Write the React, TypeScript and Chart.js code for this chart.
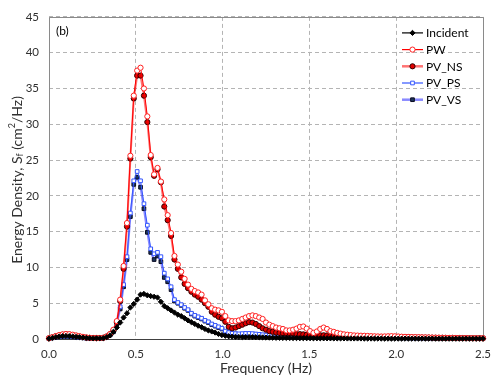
import React, { useEffect, useRef } from "react";
import { Chart, registerables } from "chart.js";
Chart.register(...registerables);

// Frequency grid step (Hz): points at i * FREQ_STEP, i = 0..128
const FREQ_STEP = 0.01953125;
const X_MIN = 0;
const X_MAX = 2.5;
const Y_MIN = 0;
const Y_MAX = 45;
const X_STEP = 0.5;
const Y_STEP = 5;
const PANEL_LABEL = "(b)";
const X_TITLE = "Frequency (Hz)";
const SERIES_NAMES = ["Incident", "PW", "PV_NS", "PV_PS", "PV_VS"];

const INCIDENT = [
  0.05, 0.15, 0.25, 0.35, 0.4, 0.42, 0.4, 0.35, 0.3, 0.25,
  0.2, 0.15, 0.12, 0.1, 0.1, 0.1, 0.12, 0.25, 0.5, 1.0,
  1.6, 2.3, 3.0, 3.6, 4.4, 4.9, 5.5, 6.2, 6.3, 6.1,
  6.0, 5.9, 5.8, 5.2, 4.6, 4.3, 4.0, 3.7, 3.4, 3.2,
  2.9, 2.6, 2.35, 2.1, 1.85, 1.65, 1.4, 1.2, 1.05, 0.9,
  0.7, 0.55, 0.45, 0.38, 0.33, 0.3, 0.28, 0.27, 0.27, 0.27,
  0.26, 0.25, 0.24, 0.22, 0.2, 0.19, 0.18, 0.17, 0.16, 0.15,
  0.15, 0.14, 0.13, 0.13, 0.12, 0.12, 0.11, 0.11, 0.1, 0.1,
  0.1, 0.09, 0.09, 0.09, 0.08, 0.08, 0.08, 0.08, 0.07, 0.07,
  0.07, 0.07, 0.07, 0.06, 0.06, 0.06, 0.06, 0.06, 0.06, 0.05,
  0.05, 0.05, 0.05, 0.05, 0.05, 0.05, 0.05, 0.05, 0.05, 0.05,
  0.05, 0.05, 0.05, 0.05, 0.04, 0.04, 0.04, 0.04, 0.04, 0.04,
  0.04, 0.04, 0.04, 0.04, 0.04, 0.04, 0.04, 0.04, 0.04,
];

const PW = [
  0.1, 0.25, 0.4, 0.55, 0.65, 0.7, 0.68, 0.6, 0.5, 0.4,
  0.3, 0.22, 0.17, 0.15, 0.14, 0.14, 0.18, 0.35, 0.7, 1.3,
  2.5, 5.5, 10.2, 16.2, 25.6, 34.0, 37.5, 37.9, 35.0, 31.1,
  25.7, 23.0, 23.9, 22.0, 19.5, 17.3, 14.8, 11.6, 10.4, 9.4,
  8.4, 7.6, 7.0, 6.7, 6.5, 6.2, 5.4, 4.85, 4.3, 4.1,
  4.0, 3.8, 3.2, 2.6, 2.5, 2.5, 2.6, 2.8, 3.0, 3.2,
  3.3, 3.2, 3.0, 2.8, 2.3, 2.0, 1.8, 1.6, 1.5, 1.4,
  1.2, 1.2, 1.3, 1.45, 1.7, 1.75, 1.45, 1.1, 0.86, 1.05,
  1.4, 1.6, 1.4, 1.1, 1.0, 0.85, 0.75, 0.65, 0.6, 0.55,
  0.5, 0.48, 0.46, 0.45, 0.43, 0.4, 0.38, 0.36, 0.35, 0.36,
  0.38, 0.4, 0.38, 0.35, 0.32, 0.3, 0.28, 0.27, 0.26, 0.25,
  0.24, 0.23, 0.22, 0.2, 0.19, 0.18, 0.17, 0.16, 0.15, 0.15,
  0.14, 0.13, 0.13, 0.12, 0.12, 0.11, 0.11, 0.1, 0.1,
];

const PV_NS = [
  0.1, 0.25, 0.4, 0.5, 0.6, 0.65, 0.62, 0.55, 0.45, 0.35,
  0.27, 0.2, 0.16, 0.14, 0.13, 0.13, 0.17, 0.35, 0.65, 1.2,
  2.35, 5.3, 9.8, 15.7, 25.2, 33.6, 36.8, 36.8, 34.0, 30.3,
  25.4, 22.8, 23.7, 21.9, 18.5, 16.6, 14.4, 11.1, 9.8, 8.6,
  7.7, 7.1, 6.6, 6.2, 5.9, 5.5, 5.0, 4.5, 3.8, 3.4,
  3.1, 2.9, 2.4, 1.7, 1.5, 1.6, 1.8, 2.0, 2.2, 2.35,
  2.3, 2.1, 1.8, 1.5, 1.3, 1.1, 1.0, 0.9, 0.85, 0.8,
  0.77, 0.77, 0.75, 0.7, 0.68, 0.65, 0.6, 0.55, 0.5, 0.5,
  0.52, 0.52, 0.5, 0.47, 0.44, 0.42, 0.4, 0.38, 0.36, 0.35,
  0.34, 0.33, 0.32, 0.31, 0.3, 0.3, 0.29, 0.28, 0.28, 0.28,
  0.29, 0.3, 0.29, 0.28, 0.27, 0.26, 0.25, 0.24, 0.23, 0.22,
  0.21, 0.2, 0.2, 0.19, 0.18, 0.17, 0.17, 0.16, 0.15, 0.15,
  0.14, 0.14, 0.13, 0.13, 0.12, 0.12, 0.11, 0.11, 0.1,
];

const PV_PS = [
  0.08, 0.18, 0.28, 0.35, 0.4, 0.42, 0.4, 0.35, 0.3, 0.24,
  0.18, 0.14, 0.12, 0.1, 0.1, 0.1, 0.14, 0.3, 0.6, 1.1,
  2.3, 4.5, 7.6, 11.5, 17.6, 22.1, 23.4, 22.1, 18.9, 15.9,
  12.6, 11.9, 12.1, 11.5, 9.2, 8.4, 7.3, 5.5, 5.1, 4.8,
  4.4, 4.1, 3.6, 3.3, 3.1, 2.9, 2.6, 2.4, 2.1, 1.9,
  1.7, 1.5, 1.1, 0.9, 0.8, 0.75, 0.72, 0.75, 0.78, 0.78,
  0.75, 0.7, 0.65, 0.6, 0.55, 0.52, 0.5, 0.48, 0.46, 0.45,
  0.44, 0.43, 0.42, 0.42, 0.41, 0.4, 0.38, 0.36, 0.34, 0.33,
  0.33, 0.33, 0.32, 0.3, 0.28, 0.27, 0.26, 0.25, 0.24, 0.23,
  0.22, 0.22, 0.21, 0.21, 0.2, 0.2, 0.2, 0.19, 0.19, 0.19,
  0.19, 0.19, 0.18, 0.18, 0.17, 0.17, 0.16, 0.16, 0.15, 0.15,
  0.15, 0.14, 0.14, 0.14, 0.13, 0.13, 0.13, 0.12, 0.12, 0.12,
  0.12, 0.11, 0.11, 0.11, 0.1, 0.1, 0.1, 0.1, 0.1,
];

const PV_VS = [
  0.08, 0.16, 0.25, 0.32, 0.37, 0.38, 0.36, 0.32, 0.27, 0.22,
  0.17, 0.13, 0.11, 0.1, 0.1, 0.1, 0.13, 0.28, 0.55, 1.0,
  2.1, 4.2, 7.3, 11.1, 17.1, 21.6, 22.6, 21.2, 18.2, 14.9,
  12.1, 11.1, 11.6, 10.8, 8.6, 8.0, 6.9, 5.3, 5.0, 4.7,
  4.3, 4.0, 3.5, 3.2, 3.0, 2.8, 2.5, 2.3, 2.0, 1.8,
  1.6, 1.4, 1.0, 0.85, 0.75, 0.7, 0.62, 0.62, 0.65, 0.65,
  0.62, 0.6, 0.55, 0.5, 0.47, 0.45, 0.43, 0.41, 0.4, 0.39,
  0.38, 0.37, 0.36, 0.36, 0.35, 0.34, 0.33, 0.32, 0.3, 0.29,
  0.29, 0.28, 0.28, 0.27, 0.26, 0.25, 0.24, 0.23, 0.22, 0.21,
  0.21, 0.2, 0.2, 0.19, 0.19, 0.19, 0.18, 0.18, 0.18, 0.18,
  0.18, 0.17, 0.17, 0.17, 0.16, 0.16, 0.16, 0.15, 0.15, 0.15,
  0.15, 0.14, 0.14, 0.14, 0.13, 0.13, 0.13, 0.13, 0.12, 0.12,
  0.12, 0.12, 0.11, 0.11, 0.11, 0.11, 0.1, 0.1, 0.1,
];

const FONT = "Lato, 'Noto Sans', sans-serif";
const TEXT_COLOR = "#303030";

type Sty = {
  line: string;
  lineWidth: number;
  shape: "circle" | "rect" | "rectRot";
  fill: string;
  stroke: string;
  radius: number;
};

const STYLES: Sty[] = [
  { line: "#000000", lineWidth: 1, shape: "rectRot", fill: "#000000", stroke: "#000000", radius: 2.6 },
  { line: "#ff0000", lineWidth: 1, shape: "circle", fill: "#ffffff", stroke: "#ff2020", radius: 2.6 },
  { line: "rgba(255,0,0,0.55)", lineWidth: 2, shape: "circle", fill: "#e00000", stroke: "#300000", radius: 2.6 },
  { line: "#3355ff", lineWidth: 1, shape: "rect", fill: "#ffffff", stroke: "#3355ff", radius: 2.6 },
  { line: "rgba(40,40,255,0.55)", lineWidth: 2, shape: "rect", fill: "#1c3558", stroke: "#0a0a20", radius: 2.6 },
];

function drawMarker(ctx: CanvasRenderingContext2D, s: Sty, x: number, y: number) {
  ctx.save();
  ctx.fillStyle = s.fill;
  ctx.strokeStyle = s.stroke;
  ctx.lineWidth = 1;
  ctx.beginPath();
  if (s.shape === "circle") {
    ctx.arc(x, y, s.radius, 0, Math.PI * 2);
  } else if (s.shape === "rect") {
    const h = s.radius * Math.SQRT1_2 * 1.0;
    ctx.rect(x - h, y - h, 2 * h, 2 * h);
  } else {
    const r = s.radius;
    ctx.moveTo(x, y - r);
    ctx.lineTo(x + r, y);
    ctx.lineTo(x, y + r);
    ctx.lineTo(x - r, y);
    ctx.closePath();
  }
  ctx.fill();
  ctx.stroke();
  ctx.restore();
}

export default function App() {
  const ref = useRef<HTMLCanvasElement>(null);
  useEffect(() => {
    document.body.style.margin = "0";
    const canvas = ref.current!;
    const allSeries = [INCIDENT, PW, PV_NS, PV_PS, PV_VS];
    const datasets = allSeries.map((vals, k) => {
      const s = STYLES[k];
      return {
        label: SERIES_NAMES[k],
        data: vals.map((y, i) => ({ x: i * FREQ_STEP, y })),
        borderColor: s.line,
        borderWidth: s.lineWidth,
        backgroundColor: s.fill,
        pointStyle: s.shape,
        pointRadius: s.radius,
        pointBorderWidth: 1,
        pointBackgroundColor: s.fill,
        pointBorderColor: s.stroke,
        tension: 0,
        clip: 8,
      };
    });

    const decor = {
      id: "decor",
      beforeDatasetsDraw(chart: any) {
        const { ctx, chartArea: a } = chart;
        ctx.save();
        ctx.strokeStyle = "#8a8a8a";
        ctx.lineWidth = 1;
        const l = Math.round(a.left) + 0.5;
        const r = Math.round(a.right) + 0.5;
        const t = Math.round(a.top) + 0.5;
        const b = Math.round(a.bottom) + 0.5;
        ctx.beginPath();
        ctx.moveTo(l, b);
        ctx.lineTo(l, t);
        ctx.lineTo(r, t);
        ctx.lineTo(r, b);
        ctx.stroke();
        ctx.strokeStyle = "#404040";
        ctx.beginPath();
        ctx.moveTo(l, b);
        ctx.lineTo(r, b);
        ctx.stroke();
        ctx.restore();
      },
      afterDraw(chart: any) {
        const { ctx, chartArea: a } = chart;
        ctx.save();
        // panel label
        ctx.fillStyle = "#000";
        ctx.font = `12px ${FONT}`;
        ctx.textBaseline = "middle";
        ctx.textAlign = "left";
        ctx.fillText(PANEL_LABEL, a.left + 7, a.top + 14);
        // legend
        SERIES_NAMES.forEach((name, k) => {
          const s = STYLES[k];
          const y = a.top + 16 + k * 16.7;
          const x1 = a.right - 81;
          const x2 = a.right - 60;
          ctx.save();
          ctx.strokeStyle = s.line;
          ctx.lineWidth = s.lineWidth === 1 ? 1.2 : 2.5;
          ctx.beginPath();
          ctx.moveTo(x1, y);
          ctx.lineTo(x2, y);
          ctx.stroke();
          ctx.restore();
          drawMarker(ctx, s, (x1 + x2) / 2, y);
          ctx.fillStyle = "#000";
          ctx.font = `12px ${FONT}`;
          ctx.textAlign = "left";
          ctx.textBaseline = "middle";
          ctx.fillText(name, x2 + 3, y + 0.5);
        });
        // x title
        ctx.fillStyle = TEXT_COLOR;
        ctx.font = `14px ${FONT}`;
        ctx.textAlign = "center";
        ctx.textBaseline = "middle";
        ctx.fillText(X_TITLE, (a.left + a.right) / 2, 368);
        // y title with sub/superscript
        ctx.save();
        ctx.translate(17, (a.top + a.bottom) / 2 + 2);
        ctx.rotate(-Math.PI / 2);
        const parts: [string, number, number][] = [
          ["Energy Density, S", 14, 0],
          ["f", 9, 3],
          [" (cm", 14, 0],
          ["2", 9, -5],
          ["/Hz)", 14, 0],
        ];
        let total = 0;
        parts.forEach(([txt, size]) => {
          ctx.font = `${size}px ${FONT}`;
          total += ctx.measureText(txt).width;
        });
        let x = -total / 2;
        ctx.textAlign = "left";
        ctx.textBaseline = "middle";
        parts.forEach(([txt, size, dy]) => {
          ctx.font = `${size}px ${FONT}`;
          ctx.fillText(txt, x, dy);
          x += ctx.measureText(txt).width;
        });
        ctx.restore();
        ctx.restore();
      },
    };

    const chart = new Chart(canvas, {
      type: "line",
      data: { datasets: datasets as any },
      options: {
        animation: false,
        responsive: false,
        maintainAspectRatio: false,
        layout: { padding: { left: 0, top: 8, right: 17, bottom: 0 } },
        plugins: { legend: { display: false }, tooltip: { enabled: false } },
        scales: {
          x: {
            type: "linear",
            min: X_MIN,
            max: X_MAX,
            ticks: {
              stepSize: X_STEP,
              callback: (v: any) => Number(v).toFixed(1),
              font: { family: FONT, size: 11.5 },
              color: TEXT_COLOR,
              padding: 8,
              maxRotation: 0,
            },
            grid: { color: "#b4b4b4", lineWidth: 1, drawTicks: false },
            border: { display: false, dash: [4, 3] },
            afterFit: (s: any) => {
              s.height = 40;
            },
          },
          y: {
            min: Y_MIN,
            max: Y_MAX,
            ticks: {
              stepSize: Y_STEP,
              font: { family: FONT, size: 11.5 },
              color: TEXT_COLOR,
              padding: 10,
            },
            grid: { color: "#b4b4b4", lineWidth: 1, drawTicks: false },
            border: { display: false, dash: [4, 3] },
            afterFit: (s: any) => {
              s.width = 49;
            },
          },
        },
      },
      plugins: [decor],
    });
    return () => chart.destroy();
  }, []);
  return (
    <div style={{ width: 500, height: 379 }}>
      <canvas ref={ref} width={500} height={379} style={{ display: "block" }} />
    </div>
  );
}
